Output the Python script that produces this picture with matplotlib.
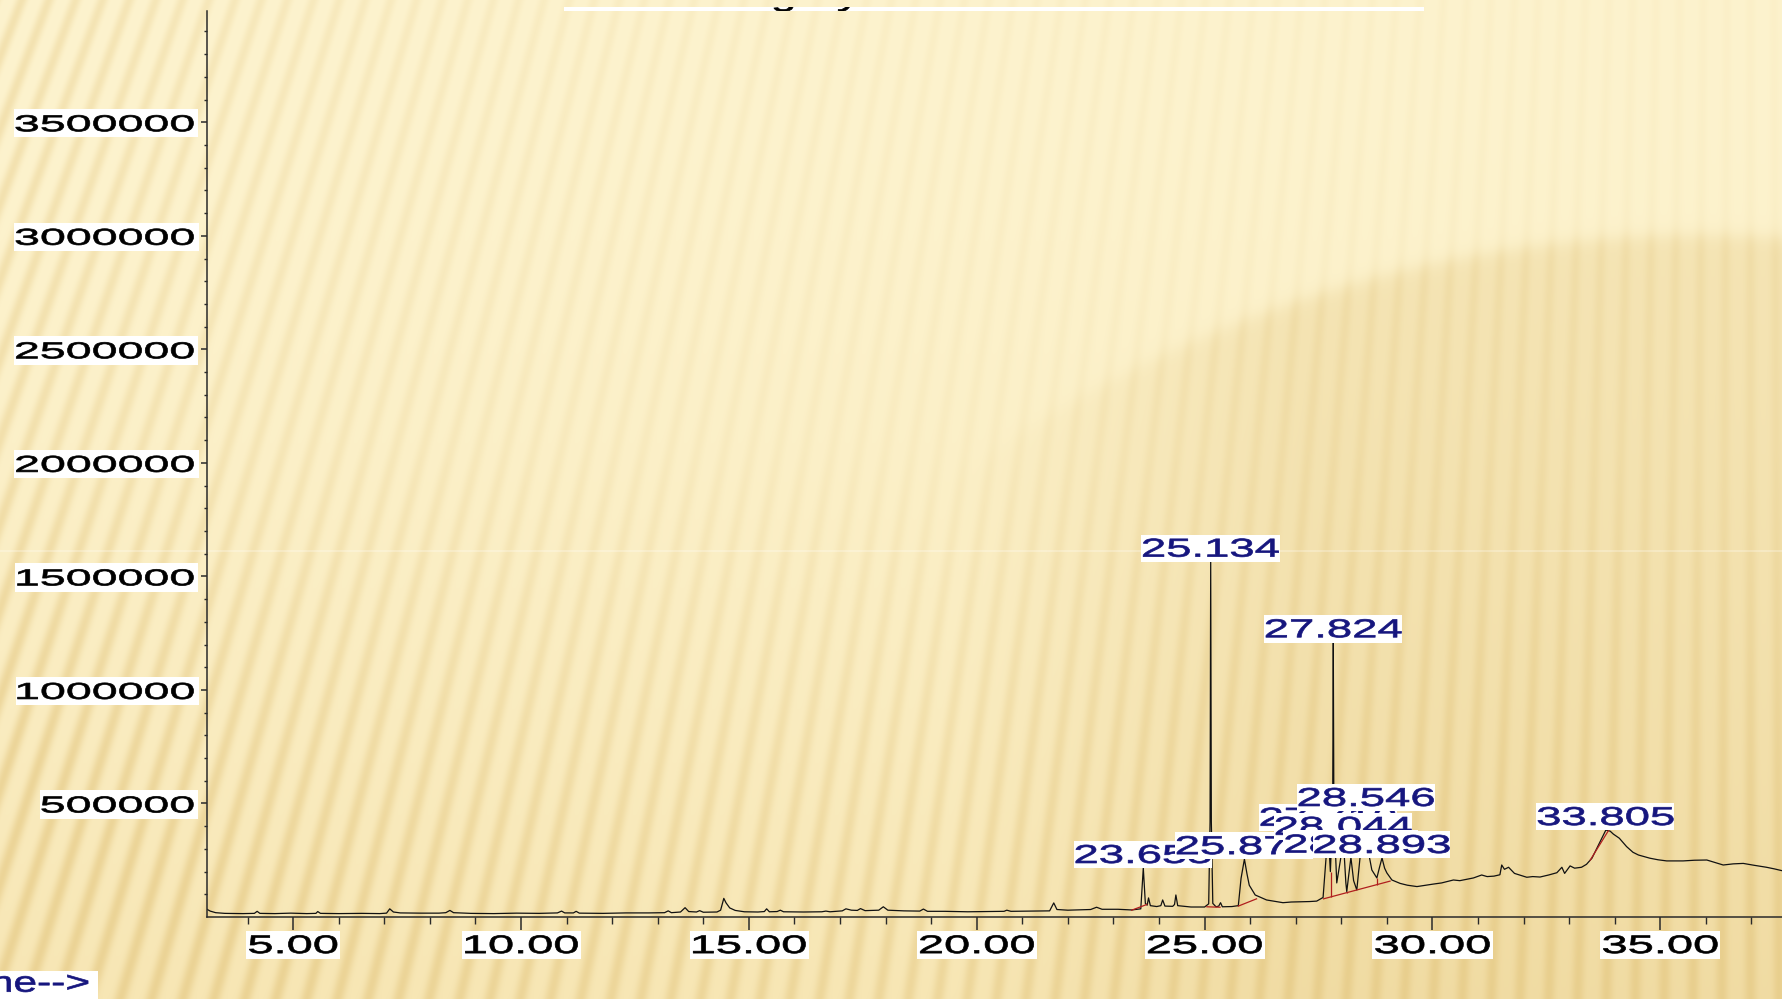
import numpy as np
import matplotlib
matplotlib.use('Agg')
import matplotlib.pyplot as plt
from matplotlib import patheffects
from matplotlib.path import Path
from matplotlib.patches import Rectangle
from matplotlib.transforms import Affine2D, Bbox

W, H = 1782, 999

# TIC trace: retention time (min) and abundance, without the labelled apexes
rt = [3.11, 3.18, 3.3, 3.5, 3.9, 4.15, 4.21, 4.27, 4.6, 4.95, 5.3, 5.5, 5.54, 5.6,
      6.0, 6.5, 6.9, 7.05, 7.12, 7.2, 7.35, 7.8, 8.2, 8.35, 8.44, 8.52, 8.9, 9.4,
      9.9, 10.4, 10.8, 10.89, 10.96, 11.15, 11.21, 11.28, 11.8, 12.3, 12.8, 13.15,
      13.23, 13.3, 13.5, 13.6, 13.68, 13.85, 13.92, 14.0, 14.3, 14.38, 14.45, 14.5,
      14.58, 14.7, 14.9, 15.2, 15.34, 15.39, 15.45, 15.62, 15.69, 15.76, 16.2, 16.6,
      16.69, 16.78, 17.05, 17.13, 17.25, 17.38, 17.45, 17.55, 17.85, 17.95, 18.05,
      18.4, 18.75, 18.83, 18.92, 19.3, 19.8, 20.3, 20.6, 20.66, 20.75, 21.2, 21.6,
      21.69, 21.76, 22.0, 22.5, 22.63, 22.75, 23.1, 23.4,
      23.6, 23.7, 23.74, 23.77, 23.81, 23.95, 24.04, 24.08, 24.13, 24.3, 24.34,
      24.37, 24.41, 24.7, 25.0, 25.09, 25.12, 25.148, 25.18, 25.25, 25.31, 25.35,
      25.39, 25.6, 25.74, 25.8, 25.93, 25.98, 26.11, 26.36, 26.72, 26.9, 27.1, 27.3,
      27.46, 27.6, 27.66, 27.76, 27.81, 27.837, 27.9, 27.98, 28.1, 28.12, 28.16,
      28.27, 28.34, 28.42, 28.62, 28.67, 28.78, 28.84, 28.95, 29.0, 29.11, 29.29,
      29.45, 29.66, 29.85, 30.02, 30.2, 30.46, 30.6, 30.75, 30.9, 31.08, 31.2, 31.35,
      31.48, 31.52, 31.58, 31.67, 31.8, 32.07, 32.2, 32.36, 32.55, 32.73, 32.84,
      32.9, 33.02, 33.12, 33.27, 33.38, 33.5, 33.68, 33.9, 33.97, 34.1, 34.26, 34.4,
      34.52, 34.77, 34.95, 35.14, 35.5, 35.75, 36.02, 36.2, 36.38, 36.6, 36.82,
      37.05, 37.33, 37.5, 37.67]
abund_k = [34, 26, 19, 16, 15, 16, 25, 16, 15, 17, 15, 16, 24, 16,
           15, 16, 15, 17, 36, 22, 18, 17, 17, 19, 29, 19, 16, 15,
           17, 16, 18, 26, 18, 18, 25, 17, 16, 18, 18, 19,
           27, 19, 22, 41, 24, 22, 28, 21, 22, 30, 82, 62,
           40, 29, 23, 22, 24, 36, 23, 24, 30, 23, 22, 23,
           26, 23, 27, 36, 30, 29, 37, 28, 30, 45, 30,
           27, 26, 35, 25, 25, 23, 24, 25, 30, 25, 26, 27,
           62, 33, 30, 33, 43, 34, 34, 31,
           36, 60, 52, 84, 50, 46, 50, 75, 48, 47, 55,
           97, 50, 44, 44, 58, 420, 420, 60, 45, 48, 63,
           45, 46, 50, 170, 190, 140, 97, 75, 63, 66, 67, 68,
           70, 86, 250, 200, 450, 450, 150, 250, 150, 112, 180,
           160, 119, 280, 260, 207, 172, 220, 215, 194, 163, 148,
           140, 134, 140, 145, 150, 163, 160, 166, 172, 185, 178, 180,
           186, 229, 210, 219, 192, 175, 178, 176, 185, 195, 219,
           192, 225, 215, 219, 232, 259, 332, 378, 365, 347, 310, 285,
           273, 259, 252, 247, 247, 250, 251, 240, 229, 234, 236,
           228, 219, 212, 204]

# integrated peaks: retention time labels and apex abundance
peak_rt = [23.655, 25.134, 25.874, 27.710, 27.824, 28.044, 28.211, 28.546, 28.893, 33.805]
peak_top = [216e3, 1565e3, 255e3, 380e3, 1210e3, 340e3, 262e3, 467e3, 260e3, 383e3]

# integration baselines (start rt, start abundance, end rt, end abundance)
base_t0 = [23.40, 25.05, 25.74, 27.61, 33.46]
base_v0 = [30e3, 45e3, 48e3, 80e3, 250e3]
base_t1 = [23.73, 25.34, 26.14, 29.07, 33.86]
base_v1 = [55e3, 43e3, 80e3, 158e3, 380e3]
# peak split drop lines
drop_t = [27.77, 28.12, 28.34, 28.78]
drop_lo = [88e3, 107e3, 119e3, 142e3]
drop_hi = [200e3, 111e3, 120e3, 172e3]

x_major = [5, 10, 15, 20, 25, 30, 35]
y_major = [500000, 1000000, 1500000, 2000000, 2500000, 3000000, 3500000]

NAVY = '#16167e'
plt.rcParams['font.family'] = ['Liberation Sans', 'DejaVu Sans']


class WideText(patheffects.AbstractPathEffect):
    """Stretch text glyphs horizontally, thicken them a bit, put a white box behind."""

    def __init__(self, sx, anchor='center', pad=(2, 2, 5, 5), box=True, stroke=0.5):
        super().__init__()
        self.sx = sx
        self.anchor = anchor
        self.pad = pad
        self.box = box
        self.stroke = stroke

    def draw_path(self, renderer, gc, tpath, affine, rgbFace=None):
        ext = tpath.get_extents()
        if self.anchor == 'left':
            cx = ext.x0
        elif self.anchor == 'right':
            cx = ext.x1
        else:
            cx = 0.5 * (ext.x0 + ext.x1)
        tr = Affine2D().translate(-cx, 0).scale(self.sx, 1).translate(cx, 0) + affine
        if self.box:
            bb = tpath.get_extents(tr)
            l, r, b, t = self.pad
            box_tr = Affine2D().scale(bb.width + l + r, bb.height + b + t) \
                .translate(bb.x0 - l, bb.y0 - b)
            gc0 = renderer.new_gc()
            gc0.copy_properties(gc)
            gc0.set_linewidth(0)
            renderer.draw_path(gc0, Path.unit_rectangle(), box_tr, (1, 1, 1))
            gc0.restore()
        gc1 = renderer.new_gc()
        gc1.copy_properties(gc)
        gc1.set_linewidth(self.stroke)
        renderer.draw_path(gc1, tpath, tr, rgbFace)
        gc1.restore()


# slide background: fanned stripes on cream, darker towards the bottom
yy, xx = np.mgrid[0:H, 0:W].astype(float)
ang = np.arctan2(xx - 1750.0, yy + 4500.0)
band = (0.5 + 0.5 * np.cos(ang / 0.00524 * 2 * np.pi)) ** 2
left = np.exp(-xx / 420.0)
low = np.clip((yy - 450) / 500, 0, 1)
arc = 1 / (1 + np.exp((np.hypot(xx - 1700, yy - 1500) - 1265) / 5.0))
arc = arc * np.clip((xx - 950) / 350, 0, 1)
amp = np.clip(0.12 + 0.55 * left + 0.6 * low + 0.25 * arc, 0, 1)
c_top = np.array([253, 243, 206]) / 255
c_low = np.array([247, 230, 180]) / 255
c_dark = np.array([226, 196, 124]) / 255
t = (yy / H) ** 1.8
base = c_top * (1 - t[..., None]) + c_low * t[..., None]
k_arc = 0.3 * arc[..., None]
base = base * (1 - k_arc) + c_dark * k_arc
k = (0.55 * band * amp)[..., None]
bg = base * (1 - k) + c_dark * k
bg[550:552] = bg[550:552] * 0.75 + 0.25
bg = np.clip(bg, 0, 1)

fig = plt.figure(figsize=(W / 100, H / 100), dpi=100)
ax_bg = fig.add_axes([0, 0, 1, 1], zorder=0)
ax_bg.imshow(bg, aspect='auto', interpolation='bilinear')
ax_bg.set_axis_off()

ax = fig.add_axes([207 / W, 82 / H, 1 - 207 / W, 906 / H], zorder=1)
ax.set_facecolor('none')

t_all = np.array(rt + peak_rt)
v_all = np.array([v * 1000 for v in abund_k] + peak_top)
order = np.argsort(t_all)
ax.plot(t_all[order], v_all[order], color='#111111', lw=0.9, zorder=2)

for a, va, b, vb in zip(base_t0, base_v0, base_t1, base_v1):
    ax.plot([a, b], [va, vb], color='#b01e1e', lw=0.9, zorder=3)
ax.vlines(drop_t, drop_lo, drop_hi, color='#b01e1e', lw=0.9, zorder=3)

ax.set_xlim(3.11, 37.67)
ax.set_ylim(0, 3.99e6)
for s in ['top', 'right']:
    ax.spines[s].set_visible(False)
for s in ['left', 'bottom']:
    ax.spines[s].set_color('#2a2a2a')
    ax.spines[s].set_linewidth(1.1)

ax.set_xticks(x_major, labels=[f'{v:.2f}' for v in x_major])
ax.set_xticks(np.arange(4, 38, 1), minor=True)
ax.set_yticks(y_major, labels=[str(v) for v in y_major])
ax.set_yticks(np.arange(100000, 3990000, 100000), minor=True)
ax.tick_params(axis='x', which='major', length=9.4, width=1.1, pad=2.9,
               labelsize=18.3, color='#2a2a2a')
ax.tick_params(axis='x', which='minor', length=4.7, width=1.0, color='#2a2a2a')
ax.tick_params(axis='y', which='major', length=4.1, width=1.1, pad=5.3,
               labelsize=16.6, color='#2a2a2a')
ax.tick_params(axis='y', which='minor', length=2.4, width=1.0, color='#2a2a2a')
for lbl in ax.get_xticklabels():
    lbl.set_path_effects([WideText(1.85, 'center', pad=(3, 3, 6, 4.5))])
for lbl in ax.get_yticklabels():
    lbl.set_path_effects([WideText(2.02, 'right', pad=(2, 5, 6, 6))])

# retention time labels, later peaks drawn over earlier ones
for r, top in sorted(zip(peak_rt, peak_top)):
    ax.annotate(f'{r:.3f}', xy=(r, top), xytext=(0, 5), textcoords='offset pixels',
                ha='center', va='baseline', fontsize=18.6, color=NAVY, zorder=5,
                path_effects=[WideText(1.76, 'center', pad=(2, 1, 5, 4))])

fig.text(89 / W, 7.3 / H, 'Time-->', ha='right', va='baseline', fontsize=20.8,
         color=NAVY, path_effects=[WideText(1.47, 'right', pad=(2, 10, 12, 0))])

# title bar, mostly covered at the top of the slide
fig.patches.append(Rectangle((564 / W, 988 / H), 860 / W, 4.3 / H,
                             transform=fig.transFigure, facecolor='white',
                             edgecolor='none', zorder=3))
title = fig.text(676 / W, 993 / H, 'Category', ha='left', va='baseline',
                 fontsize=18.6, color='black', zorder=4,
                 path_effects=[WideText(1.76, 'left', box=False)])
title.set_clip_box(Bbox.from_extents(564, 988, 1424, 992.3))
title.set_clip_on(True)

fig.savefig('out.png', dpi=100)
